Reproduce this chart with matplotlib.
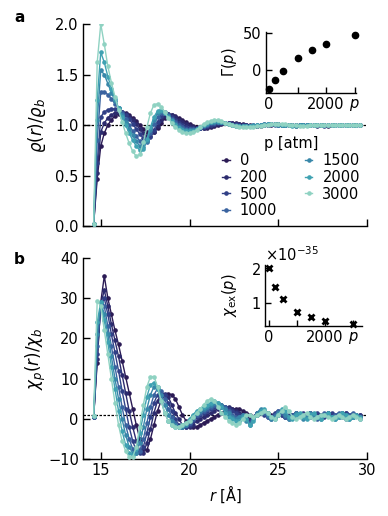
import numpy as np
import matplotlib
matplotlib.use("Agg")
import matplotlib.pyplot as plt

plt.rcParams['font.family'] = ['DejaVu Sans']
plt.rcParams['mathtext.fontset'] = 'dejavusans'

# ---------------- data ----------------
pressures = [0, 200, 500, 1000, 1500, 2000, 3000]
labels = ['0', '200', '500', '1000', '1500', '2000', '3000']
colors = ['#2b1b55', '#2c2b6e', '#303f86', '#3a63a0', '#3887a9', '#3fa2b2', '#8fd2c2']

r_start, r_step = 14.6, 0.2

# panel a: rho(r)/rho_b, r = 14.6 ... 29.6 (step 0.2)
rho_0 = [0.02, 0.47, 0.79, 0.92, 1.00, 1.05, 1.09, 1.11, 1.12, 1.12, 1.10, 1.07, 1.04, 1.00, 0.96, 0.93, 0.92, 0.93, 0.97, 1.02,
         1.07, 1.10, 1.10, 1.09, 1.07, 1.05, 1.03, 1.01, 0.99, 0.98, 0.97, 0.97, 0.97, 0.98, 0.99, 1.00, 1.01, 1.02,
         1.02, 1.02, 1.02, 1.01, 1.01, 1.00, 1.00, 0.99, 0.99, 0.99, 1.00, 1.00, 1.00, 1.01, 1.01, 1.00, 1.00, 1.00, 1.00, 0.99,
         1.00, 1.00, 1.00, 1.00, 1.00, 1.00, 1.00, 1.00, 0.99, 1.00, 1.00, 1.00, 1.00, 1.00, 1.00, 1.00, 1.00, 1.00]
rho_200 = [0.02, 0.52, 0.93, 1.02, 1.07, 1.10, 1.12, 1.13, 1.13, 1.11, 1.08, 1.05, 1.01, 0.96, 0.92, 0.89, 0.89, 0.93, 0.99, 1.05,
           1.09, 1.11, 1.10, 1.08, 1.05, 1.03, 1.01, 0.99, 0.98, 0.97, 0.97, 0.97, 0.98, 0.99, 1.00, 1.01, 1.02, 1.02,
           1.02, 1.02, 1.01, 1.01, 1.00, 1.00, 0.99, 0.99, 0.99, 1.00, 1.00, 1.00, 1.01, 1.01, 1.01, 1.00, 1.00, 1.00, 1.00, 1.00,
           1.00, 1.00, 1.00, 1.00, 1.00, 0.99, 1.00, 1.00, 1.00, 1.00, 1.00, 1.00, 1.00, 1.00, 1.00, 1.00, 1.00, 1.00]
rho_500 = [0.02, 0.62, 1.08, 1.13, 1.15, 1.16, 1.16, 1.15, 1.13, 1.10, 1.06, 1.01, 0.96, 0.91, 0.87, 0.85, 0.88, 0.95, 1.03, 1.09,
           1.12, 1.11, 1.08, 1.05, 1.02, 1.00, 0.98, 0.97, 0.97, 0.97, 0.97, 0.98, 0.99, 1.00, 1.01, 1.02, 1.02, 1.02,
           1.02, 1.01, 1.01, 1.00, 1.00, 1.00, 0.99, 0.99, 0.99, 1.00, 1.00, 1.00, 1.01, 1.01, 1.00, 1.00, 1.00, 1.00, 1.00, 1.00,
           1.00, 1.00, 1.00, 1.00, 1.00, 1.00, 1.00, 0.99, 1.00, 1.00, 1.00, 1.00, 1.00, 1.00, 1.00, 1.00, 1.00, 1.00]
rho_1000 = [0.02, 0.85, 1.33, 1.33, 1.30, 1.26, 1.21, 1.17, 1.12, 1.06, 1.00, 0.94, 0.89, 0.84, 0.81, 0.83, 0.92, 1.01, 1.08, 1.12,
            1.13, 1.10, 1.06, 1.03, 1.00, 0.98, 0.96, 0.96, 0.96, 0.96, 0.97, 0.99, 1.00, 1.02, 1.02, 1.03, 1.03, 1.02,
            1.01, 1.00, 1.00, 0.99, 0.99, 0.99, 0.99, 1.00, 1.00, 1.00, 1.01, 1.01, 1.01, 1.00, 1.00, 1.00, 1.00, 1.00, 1.00, 1.00,
            1.00, 1.00, 1.00, 1.00, 1.00, 1.00, 1.00, 1.00, 1.00, 1.00, 1.00, 1.00, 1.00, 1.00, 1.00, 1.00, 1.00, 1.00]
rho_1500 = [0.02, 1.05, 1.54, 1.50, 1.41, 1.32, 1.24, 1.17, 1.10, 1.03, 0.96, 0.90, 0.84, 0.79, 0.78, 0.84, 0.95, 1.05, 1.12, 1.14,
            1.12, 1.09, 1.05, 1.01, 0.98, 0.96, 0.95, 0.95, 0.95, 0.96, 0.98, 1.00, 1.01, 1.03, 1.03, 1.03, 1.03, 1.02,
            1.01, 1.00, 0.99, 0.99, 0.99, 0.99, 0.99, 1.00, 1.00, 1.00, 1.01, 1.01, 1.01, 1.01, 1.00, 1.00, 1.00, 1.00, 1.00, 1.00,
            1.00, 1.00, 1.00, 1.00, 1.00, 1.00, 1.00, 1.00, 1.00, 1.00, 1.00, 1.00, 1.00, 1.00, 1.00, 1.00, 1.00, 1.00]
rho_2000 = [0.02, 1.25, 1.72, 1.62, 1.48, 1.36, 1.26, 1.17, 1.08, 1.00, 0.92, 0.85, 0.79, 0.75, 0.76, 0.86, 0.98, 1.08, 1.14, 1.15,
            1.12, 1.08, 1.04, 1.00, 0.97, 0.95, 0.94, 0.94, 0.94, 0.96, 0.98, 1.00, 1.02, 1.03, 1.04, 1.04, 1.03, 1.02,
            1.01, 1.00, 0.99, 0.99, 0.99, 0.99, 0.99, 0.99, 1.00, 1.00, 1.00, 1.01, 1.01, 1.01, 1.01, 1.00, 1.00, 1.00, 0.99, 0.99,
            1.00, 1.00, 1.00, 1.00, 1.00, 1.00, 1.00, 1.00, 1.00, 1.00, 1.00, 1.00, 1.00, 1.00, 1.00, 1.00, 1.00, 1.00]
rho_3000 = [0.02, 1.62, 2.00, 1.80, 1.58, 1.42, 1.28, 1.15, 1.03, 0.92, 0.82, 0.74, 0.69, 0.71, 0.83, 0.98, 1.12, 1.20, 1.21, 1.18,
            1.13, 1.07, 1.02, 0.98, 0.95, 0.93, 0.92, 0.92, 0.93, 0.95, 0.98, 1.01, 1.03, 1.04, 1.05, 1.05, 1.04, 1.02,
            1.01, 1.00, 0.99, 0.98, 0.98, 0.98, 0.98, 0.98, 0.99, 0.99, 1.00, 1.00, 1.01, 1.01, 1.01, 1.01, 1.01, 1.00, 1.00, 1.00,
            0.99, 0.99, 0.99, 1.00, 1.00, 1.00, 1.00, 1.00, 1.00, 1.00, 1.00, 1.00, 1.00, 1.00, 1.00, 1.00, 1.00, 1.00]

# panel b: chi_p(r)/chi_b
chi_0 = [0.5, 14, 29, 35.5, 30, 26, 22, 18.5, 14.5, 10.5, 6.5, 2.5, -1.5, -5, -7.5, -7.8, -5, -1.5, 2, 4.5,
         5.8, 6.2, 6, 5, 3, 1, -0.5, -1.5, -2, -2, -1.5, -1, -0.5, 0, 0.5, 1, 1.5, 2,
         2, 2.5, 2.5, 2.5, 2, 1.5, 1, 0.5, 1, 1.5, 2, 1.5, 1, 0.5, 1, 1.5, 1, 0.5, 1, 1.5,
         1, 0.5, 1, 1.5, 1, 1, 0.5, 1, 1.5, 1, 0.5, 1, 1.5, 1, 0.5, 1, 1, 1]
chi_200 = [0.5, 15, 28.5, 32, 28, 23.5, 19.5, 15.5, 11, 6.5, 2, -2, -5.5, -8, -8.5, -6, -2.5, 1.5, 4.5, 6,
           6.2, 5.5, 3.5, 1.5, 0, -1.5, -2, -2, -1.5, -0.5, 0, 0.5, 1, 1.5, 2, 2.5, 3, 3,
           3, 2.5, 2, 1.5, 1, 0.5, 0, 0.5, 1.5, 2, 1.5, 1, 0.5, 1, 1.5, 1, 0.5, 0.5, 1, 1.5,
           1, 0.5, 1, 1.5, 1, 0.5, 1, 1, 1.5, 1, 0.5, 1, 1, 1.5, 1, 0.5, 1, 0.5]
chi_500 = [0.5, 16, 28, 30, 26, 21, 16.5, 12, 7, 2.5, -2, -5.5, -8, -8.5, -7, -3.5, 0.5, 4, 6, 6.5,
           6, 4, 2, 0, -1.5, -2, -2, -1.5, -0.5, 0.5, 1, 1.5, 2, 2.5, 3, 3, 3.5, 3,
           2.5, 2, 1.5, 1, 1, 0, -0.5, 0.5, 1.5, 1.5, 1, 0.5, 0.5, 1.5, 2, 1, 0.5, 1, 1, 0.5,
           1, 1.5, 1, 0.5, 1, 1.5, 1, 0.5, 1, 1.5, 1, 0.5, 1, 1.5, 1, 0.5, 1, 1]
chi_1000 = [0.5, 18, 28.5, 28, 23, 18, 13, 8, 3, -1.5, -5, -7.5, -8.5, -8, -5, -1, 3, 6, 7.5, 7,
            5, 2.5, 0.5, -1, -2, -2, -1.5, -1, 0, 1, 1.5, 2, 2.5, 3, 3.5, 3.5, 3.5, 3,
            2, 1, 0.5, 0.5, 1, 0, -1, 0.5, 1.5, 2, 1.5, 0.5, 0, 1, 2, 1.5, 0.5, 0, 1, 1.5,
            1, 0.5, 1, 1.5, 1, 0, 0.5, 1.5, 1, 0.5, 1, 1.5, 0.5, 0, 1, 1.5, 1, 0.5]
chi_1500 = [0.6, 21, 29, 26, 21, 15.5, 10, 5, 0, -4, -7, -8.5, -8.5, -6, -2, 2.5, 6, 8, 8, 6,
            3.5, 1, -0.5, -1.5, -2, -2, -1.5, -0.5, 0.5, 1.5, 2, 2.5, 3, 3.5, 4, 4, 3.5, 2.5,
            1.5, 0.5, 0, 0.5, 1, -0.5, -1.5, 0, 1.5, 2.5, 2, 1, 0, 0.5, 1.5, 2, 1, 0, 0.5, 1.5,
            1, 0, 0.5, 1.5, 1, 0.5, 0, 1, 1.5, 0.5, 0, 1, 1.5, 1, 0, 0.5, 1, 0]
chi_2000 = [0.6, 24, 29, 24.5, 19, 13, 7.5, 2, -3, -6.5, -8.5, -9, -7.5, -3.5, 1, 5.5, 8.5, 9, 7.5, 4.5,
            1.5, -0.5, -1.5, -2, -2, -1.5, -1, 0, 1, 2, 2.5, 3, 3.5, 4, 4.5, 4, 3, 1.5,
            0.5, 0, -0.5, -0.5, 0.5, 0, -1.5, -0.5, 1, 2, 2.5, 1.5, 0.5, 0, 1, 2.5, 2, 0.5, 0, 1,
            1.5, 0.5, 0, 1, 1.5, 0.5, 0, 1, 1.5, 0.5, 0, 0.5, 1.5, 1, 0, 0.5, 1, 0.5]
chi_3000 = [0.8, 29.3, 28, 22, 16, 10, 4, -1.5, -5.5, -8, -9.5, -9.5, -7, -2, 3.5, 8, 10.5, 10.5, 8, 4.5,
            1.5, -0.5, -1.5, -2, -2, -1.5, -1, -0.5, 0.5, 1.5, 2.5, 3.5, 4.5, 5, 4.5, 3, 1.5, 0.5,
            -0.5, -1, -1.5, -1, 0, 1, 1, 0.5, 1, 1.5, 2, 1.5, 0.5, 0, 1, 2, 3, 2, 0.5, 0,
            0.5, 1, 1.5, 0.5, 0, 0.5, 1, 1, 0.5, 0, 0.5, 1, 0.5, 0, 0.5, 1, 0.5, 0]

# insets
gamma_p = [-25.9, -13.8, -0.9, 15.7, 27.2, 34.8, 47.3]
chi_ex = [2.0e-35, 1.46e-35, 1.12e-35, 0.72e-35, 0.58e-35, 0.48e-35, 0.40e-35]

rho_all = [rho_0, rho_200, rho_500, rho_1000, rho_1500, rho_2000, rho_3000]
chi_all = [chi_0, chi_200, chi_500, chi_1000, chi_1500, chi_2000, chi_3000]

# ---------------- figure ----------------
W, H = 388, 516
fig = plt.figure(figsize=(W / 100, H / 100), dpi=100)

def px_axes(l, t, r, b):
    return fig.add_axes([l / W, 1 - b / H, (r - l) / W, (b - t) / H])

FS = 10.5
ax_a = px_axes(83, 24, 367, 226)
ax_b = px_axes(83, 258, 367, 459)

def style(ax, length=5):
    for s in ['top', 'right']:
        ax.spines[s].set_visible(False)
    for s in ['left', 'bottom']:
        ax.spines[s].set_linewidth(1.0)
    ax.tick_params(direction='in', length=length, width=1.0, labelsize=FS, pad=3)

lines = []
for vals, col, lab in zip(rho_all, colors, labels):
    r = r_start + r_step * np.arange(len(vals))
    ln, = ax_a.plot(r, vals, '-o', color=col, lw=1.0, ms=2.3, label=lab, zorder=3)
    lines.append(ln)
for vals, col in zip(chi_all, colors):
    r = r_start + r_step * np.arange(len(vals))
    ax_b.plot(r, vals, '-o', color=col, lw=1.0, ms=2.3, zorder=3)

ax_a.axhline(1.0, color='black', lw=0.9, ls=(0, (2, 1.2)), zorder=2)
ax_b.axhline(1.0, color='black', lw=0.9, ls=(0, (2, 1.2)), zorder=2)

for ax in (ax_a, ax_b):
    style(ax)
    ax.set_xlim(14, 30)
    ax.set_xticks([15, 20, 25, 30])

ax_a.set_ylim(0, 2)
ax_a.set_yticks([0, 0.5, 1.0, 1.5, 2.0])
ax_a.set_yticklabels(['0.0', '0.5', '1.0', '1.5', '2.0'])
ax_a.set_xticklabels([])
ax_a.set_ylabel(r'$\varrho(r)/\varrho_b$', fontsize=12)
ax_a.yaxis.set_label_coords(-0.125, 0.5)

ax_b.set_ylim(-10, 40)
ax_b.set_yticks([-10, 0, 10, 20, 30, 40])
ax_b.set_yticklabels(['\u221210', '0', '10', '20', '30', '40'])
ax_b.set_ylabel(r'$\chi_p(r)/\chi_b$', fontsize=12)
ax_b.yaxis.set_label_coords(-0.125, 0.5)
ax_b.set_xlabel(r'$r$ [Å]', fontsize=FS, labelpad=4)

leg = ax_a.legend(handles=lines, ncol=2, frameon=False, loc='upper left',
                  bbox_to_anchor=(0.465, 0.48), title='p [atm]', fontsize=FS,
                  title_fontsize=FS, handlelength=0.5, handletextpad=0.7,
                  columnspacing=1.9, labelspacing=0.12, borderpad=0.0)

fig.text(14 / W, 1 - 17 / H, 'a', fontsize=11, fontweight='bold', va='center', ha='left')
fig.text(14 / W, 1 - 260 / H, 'b', fontsize=11, fontweight='bold', va='center', ha='left')

# inset a
ia = px_axes(266, 32, 356, 93)
style(ia, length=4)
ia.plot(pressures, gamma_p, 'o', color='black', ms=4.5, zorder=3, clip_on=False)
ia.set_xlim(-110, 3050)
ia.set_ylim(-31, 51)
ia.set_xticks([0, 1000, 2000, 3000])
ia.set_xticklabels(['0', '', '2000', '$p$'])
ia.set_yticks([0, 50])
ia.set_ylabel(r'$\Gamma(p)$', fontsize=FS)
ia.yaxis.set_label_coords(-0.3, 0.5)

# inset b
ib = px_axes(265, 265, 362, 326)
style(ib, length=4)
ib.plot(pressures, chi_ex, 'x', color='black', ms=4, mew=2, zorder=3, clip_on=False)
ib.set_xlim(-140, 3320)
ib.set_ylim(0.33e-35, 2.09e-35)
ib.set_xticks([0, 1000, 2000, 3000])
ib.set_xticklabels(['0', '', '2000', '$p$'])
ib.set_yticks([1e-35, 2e-35])
fmt = matplotlib.ticker.ScalarFormatter(useMathText=True)
ib.yaxis.set_major_formatter(fmt)
ib.yaxis.get_offset_text().set_fontsize(FS)
ib.set_ylabel(r'$\chi_{\rm ex}(p)$', fontsize=FS)
ib.yaxis.set_label_coords(-0.27, 0.5)

fig.savefig('out.png', dpi=100)
